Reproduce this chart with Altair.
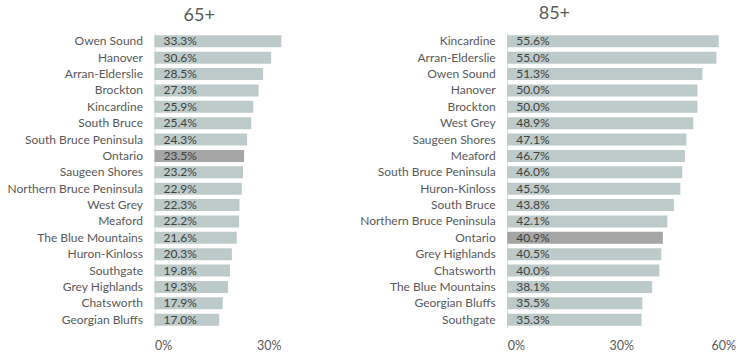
import altair as alt
import pandas as pd

# ---- data ----
places_65 = ["Owen Sound", "Hanover", "Arran-Elderslie", "Brockton", "Kincardine",
             "South Bruce", "South Bruce Peninsula", "Ontario", "Saugeen Shores",
             "Northern Bruce Peninsula", "West Grey", "Meaford", "The Blue Mountains",
             "Huron-Kinloss", "Southgate", "Grey Highlands", "Chatsworth", "Georgian Bluffs"]
share_65 = [0.333, 0.306, 0.285, 0.273, 0.259, 0.254, 0.243, 0.235, 0.232,
            0.229, 0.223, 0.222, 0.216, 0.203, 0.198, 0.193, 0.179, 0.170]

places_85 = ["Kincardine", "Arran-Elderslie", "Owen Sound", "Hanover", "Brockton",
             "West Grey", "Saugeen Shores", "Meaford", "South Bruce Peninsula",
             "Huron-Kinloss", "South Bruce", "Northern Bruce Peninsula", "Ontario",
             "Grey Highlands", "Chatsworth", "The Blue Mountains", "Georgian Bluffs", "Southgate"]
share_85 = [0.556, 0.550, 0.513, 0.500, 0.500, 0.489, 0.471, 0.467, 0.460,
            0.455, 0.438, 0.421, 0.409, 0.405, 0.400, 0.381, 0.355, 0.353]

ticks_65 = [0, 0.3]
ticks_85 = [0, 0.3, 0.6]

FONT = "Lato"
BAR = "#BCCBCA"
ONT = "#A5A5A5"
AX = "#595959"


def panel(places, shares, title, xmax, ticks, width, title_offset, title_dx):
    df = pd.DataFrame({
        "place": places,
        "share": shares,
        "kind": ["Ontario" if p == "Ontario" else "Other" for p in places],
    })
    y = alt.Y("place:N", sort=places, title=None,
              scale=alt.Scale(paddingInner=0.27, paddingOuter=0.14),
              axis=alt.Axis(labelFont=FONT, labelFontSize=12, labelColor=AX,
                            labelPadding=12, ticks=False, domainColor="#D9D9D9",
                            domainWidth=1, minExtent=150, labelLimit=138))
    x = alt.X("share:Q", title=None,
              scale=alt.Scale(domain=[0, xmax], nice=False, zero=True),
              axis=alt.Axis(values=ticks, format=".0%", grid=False, domain=False,
                            ticks=False, labelFont=FONT, labelFontSize=12.5,
                            labelColor=AX, labelPadding=11))
    bars = alt.Chart(df).mark_bar().encode(
        x=x, y=y,
        color=alt.Color("kind:N", scale=alt.Scale(domain=["Other", "Ontario"], range=[BAR, ONT]),
                        legend=None),
    )
    labels = alt.Chart(df).mark_text(align="left", baseline="middle", dx=9, font=FONT,
                                     fontSize=12, color="#404040").encode(
        x=alt.datum(0),
        y=alt.Y("place:N", sort=places),
        text=alt.Text("share:Q", format=".1%"),
    )
    return alt.layer(bars, labels).properties(
        width=width, height=295,
        title=alt.TitleParams(text=title, font=FONT, fontSize=18, fontWeight="normal",
                              color=AX, anchor="middle", dx=title_dx, offset=title_offset),
    )


left = panel(places_65, share_65, "65+", 0.35, ticks_65, 133.4, 8, -22)
right = panel(places_85, share_85, "85+", 0.6, ticks_85, 228.3, 10.3, -67)

chart = alt.hconcat(left, right, spacing=68.7).properties(
    padding={"left": 4.5, "top": 4, "right": 0, "bottom": 0},
    background="white",
).configure_view(stroke=None)

chart.save("out.html", embed_options={"renderer": "svg", "actions": False})
